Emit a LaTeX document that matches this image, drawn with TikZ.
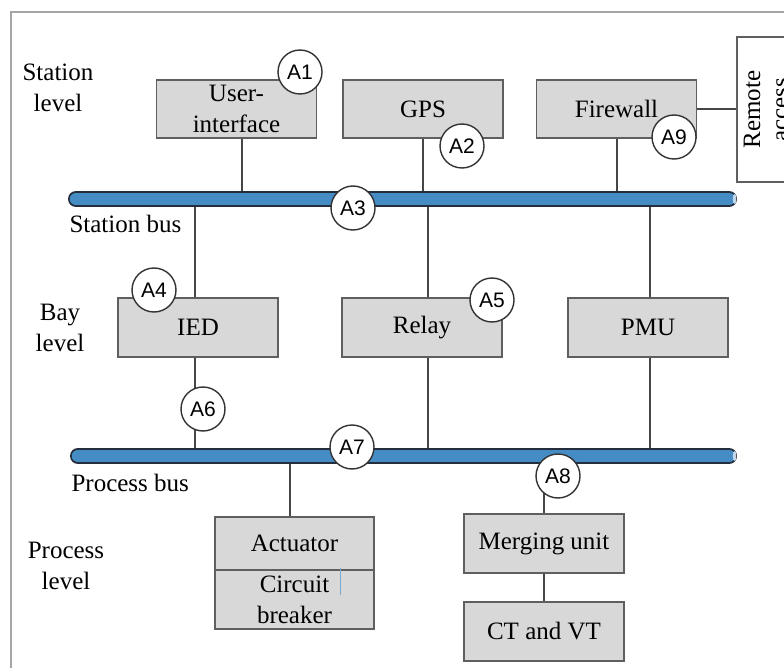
\documentclass[tikz,border=0pt]{standalone}
\usepackage{fontspec}
\setmainfont{Liberation Serif}
\newfontfamily\tagfont{Liberation Sans}
\definecolor{boxfill}{RGB}{216,216,216}
\definecolor{boxline}{RGB}{95,95,95}
\definecolor{wireline}{RGB}{70,70,70}
\definecolor{busblue}{RGB}{70,140,196}
\definecolor{busedge}{RGB}{35,45,60}
\definecolor{framegray}{RGB}{165,165,165}
\definecolor{cursorblue}{RGB}{120,170,215}
\begin{document}
\begin{tikzpicture}[x=1pt,y=-1pt,
  unit/.style={draw=boxline, fill=boxfill, line width=1.4pt, minimum width=160pt,
    minimum height=58pt, inner sep=0pt, align=center, font=\fontsize{25}{31}\selectfont},
  tag/.style={circle, draw=black!80, fill=white, line width=1.4pt, minimum size=44pt,
    inner sep=0pt, font=\tagfont\fontsize{21}{21}\selectfont},
  wire/.style={draw=wireline, line width=1.3pt},
  lvl/.style={align=center, font=\fontsize{25}{31}\selectfont},
  busouter/.style={line width=16pt, draw=busedge, line cap=round},
  businner/.style={line width=12.5pt, draw=busblue, line cap=round}]

\useasboundingbox (0,0) rectangle (784,668);
\clip (0,0) rectangle (784,668);

% outer frame
\draw[framegray, line width=2pt] (11,12) rectangle (830,700);

% level labels
\node[lvl] (stlvl) at (58,88) {Station\\level};
\node[lvl] (baylvl) at (60,328) {Bay\\level};
\node[lvl] (prlvl) at (66,566) {Process\\level};
\node[lvl, anchor=west] (stbus) at (66,224) {Station bus};
\node[lvl, anchor=west] (prbus) at (68,483) {Process bus};

% bus end points
\coordinate (sbW) at (76,199);
\coordinate (sbE) at (729,199);
\coordinate (pbW) at (78,456);
\coordinate (pbE) at (729,456);

% taps on the station bus
\coordinate (uiT)  at (242,199);
\coordinate (gpsT) at (423,199);
\coordinate (fwT)  at (617,199);
\coordinate (iedT) at (195,199);
\coordinate (relT) at (428,199);
\coordinate (pmuT) at (650,199);
% taps on the process bus
\coordinate (iedP) at (195,456);
\coordinate (relP) at (428,456);
\coordinate (pmuP) at (650,456);
\coordinate (actP) at (290,456);
\coordinate (muP)  at (544,456);

% station level devices
\node[unit] (ui)  at (236.5,109) {User-\\interface};
\node[unit] (gps) at (423,109) {GPS};
\node[unit] (fw)  at (616.5,109) {Firewall};
\node[draw=boxline, fill=white, line width=1.4pt, minimum width=58pt, minimum height=145pt,
  inner sep=0pt] (remote) at (766,109.5) {};
\node[rotate=90, align=center, font=\fontsize{25}{28}\selectfont] (remotetxt) at (766,109.5) {Remote\\access};

% bay level devices
\node[unit, minimum height=59pt] (ied) at (198,327.5) {IED};
\node[unit, minimum height=59pt] (rel) at (422,327.5) {Relay};
\node[unit, minimum height=59pt] (pmu) at (648,327.5) {PMU};

% process level devices
\node[unit, minimum width=159pt, minimum height=53pt] (act) at (294.5,543.5) {Actuator};
\node[unit, minimum width=159pt, minimum height=59pt] (cb) at (294.5,599.5) {Circuit\\breaker};
\node[unit, minimum height=59pt] (mu) at (544,543.5) {Merging unit};
\node[unit, minimum height=59pt] (ct) at (544,631.5) {CT and VT};

% connections
\draw[wire] (uiT |- ui.south) -- (uiT);
\draw[wire] (gpsT |- gps.south) -- (gpsT);
\draw[wire] (fwT |- fw.south) -- (fwT);
\draw[wire] (fw.east) -- (remote.west |- fw.east);
\draw[wire] (iedT) -- (iedT |- ied.north);
\draw[wire] (relT) -- (relT |- rel.north);
\draw[wire] (pmuT) -- (pmuT |- pmu.north);
\draw[wire] (iedT |- ied.south) -- (iedP);
\draw[wire] (relT |- rel.south) -- (relP);
\draw[wire] (pmuT |- pmu.south) -- (pmuP);
\draw[wire] (actP) -- (actP |- act.north);
\draw[wire] (muP) -- (muP |- mu.north);
\draw[wire] (mu.south) -- (ct.north);

% buses
\draw[busouter] (sbW) -- (sbE);
\draw[businner] (sbW) -- (sbE);
\draw[busouter] (pbW) -- (pbE);
\draw[businner] (pbW) -- (pbE);
\fill[white!65!busblue] (734.5,199) ellipse [x radius=1.8pt, y radius=5pt];
\fill[white!65!busblue] (734.5,456) ellipse [x radius=1.8pt, y radius=5pt];

% text cursor mark beside the breaker label
\draw[cursorblue, line width=1pt] (340,568) -- (340,595);

% tags
\node[tag] (a1) at (300,72)  {A1};
\node[tag] (a2) at (462,146) {A2};
\node[tag] (a3) at (353,208) {A3};
\node[tag] (a4) at (154,290) {A4};
\node[tag] (a5) at (492,300) {A5};
\node[tag] (a6) at (203,409) {A6};
\node[tag] (a7) at (352,447) {A7};
\node[tag] (a8) at (558,476) {A8};
\node[tag] (a9) at (674,137) {A9};
\end{tikzpicture}
\end{document}
